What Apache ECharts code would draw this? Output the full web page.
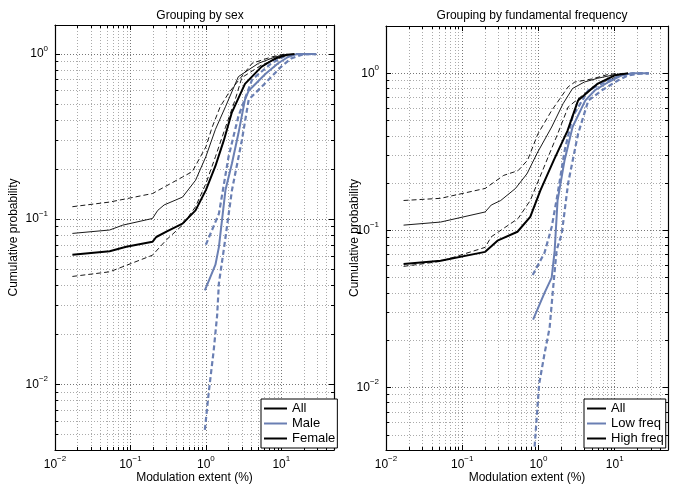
<!DOCTYPE html>
<html><head><meta charset="utf-8">
<script src="https://cdn.jsdelivr.net/npm/echarts@6/dist/echarts.min.js"></script>
<style>html,body{margin:0;padding:0;background:#fff}#c{width:680px;height:486px}</style>
</head><body><div id="c"></div><script>
// ---- tick labels / positions ----
const xMajor = [0.01, 0.1, 1, 10];
const yMajor = [0.01, 0.1, 1];
const titles = ['Grouping by sex', 'Grouping by fundamental frequency'];
const legendSex = ['All', 'Male', 'Female'];
const legendF0 = ['All', 'Low freq', 'High freq'];

// ---- left panel: grouping by sex  [x (%), cumulative probability] ----
const sexAll = [[0.017,0.061],[0.053,0.064],[0.088,0.068],[0.196,0.073],[0.22,0.078],[0.30,0.084],[0.49,0.094],[0.73,0.113],[1.0,0.15],[1.34,0.21],[1.73,0.30],[2.2,0.44],[3.3,0.66],[5.5,0.84],[8.3,0.94],[12,0.99],[15,1.0]];
const sexFemale = [[0.017,0.082],[0.053,0.086],[0.079,0.092],[0.196,0.101],[0.23,0.113],[0.28,0.122],[0.49,0.136],[0.73,0.172],[1.0,0.239],[1.34,0.35],[1.82,0.48],[2.7,0.73],[5.0,0.88],[8.3,0.96],[12,1.0]];
const sexFemaleHi = [[0.017,0.119],[0.053,0.127],[0.196,0.143],[0.49,0.18],[0.66,0.194],[1.0,0.274],[1.21,0.36],[1.55,0.48],[2.0,0.58],[4.1,0.88],[7.4,0.96],[11,1.0]];
const sexFemaleLo = [[0.017,0.045],[0.053,0.048],[0.196,0.0605],[0.30,0.075],[0.49,0.092],[0.73,0.119],[1.0,0.164],[1.34,0.239],[1.82,0.36],[2.45,0.53],[3.0,0.72],[5.5,0.86],[9.1,0.94],[15,1.0]];
const sexMale = [[0.97,0.037],[1.34,0.053],[1.49,0.068],[1.82,0.15],[2.22,0.218],[2.7,0.33],[3.3,0.53],[3.7,0.6],[6.2,0.76],[9.1,0.88],[12.3,0.96],[16,1.0],[29,1.0]];
const sexMaleHi = [[1.0,0.07],[1.49,0.108],[2.0,0.239],[2.7,0.42],[4.1,0.70],[7.4,0.88],[11,0.97],[16,1.0],[29,1.0]];
const sexMaleLo = [[0.97,0.0053],[1.1,0.0092],[1.27,0.016],[1.41,0.026],[1.49,0.041],[1.75,0.068],[2.22,0.15],[3.0,0.30],[3.7,0.53],[6.2,0.67],[10,0.84],[13.5,0.94],[20,1.0],[29,1.0]];

// ---- right panel: grouping by fundamental frequency ----
const f0All = [[0.017,0.061],[0.052,0.064],[0.20,0.073],[0.29,0.086],[0.53,0.098],[0.78,0.122],[1.06,0.18],[1.59,0.28],[2.4,0.43],[3.3,0.67],[6.0,0.86],[10,0.97],[15,1.0]];
const f0High = [[0.017,0.108],[0.052,0.113],[0.20,0.131],[0.24,0.145],[0.32,0.155],[0.50,0.185],[0.71,0.23],[0.96,0.31],[1.49,0.455],[2.1,0.64],[2.8,0.80],[4.0,0.88],[6.0,0.93],[10,0.98],[13,1.0]];
const f0HighHi = [[0.017,0.155],[0.052,0.16],[0.20,0.185],[0.35,0.224],[0.54,0.24],[0.72,0.28],[0.98,0.41],[1.49,0.58],[2.45,0.82],[3.0,0.88],[5.0,0.92],[8.0,0.98],[11,1.0]];
const f0HighLo = [[0.017,0.059],[0.052,0.0635],[0.20,0.078],[0.24,0.091],[0.54,0.119],[0.78,0.155],[1.17,0.25],[1.78,0.41],[2.45,0.61],[5.5,0.84],[10,0.94],[16,1.0]];
const f0Low = [[0.85,0.027],[1.2,0.040],[1.49,0.050],[1.63,0.074],[1.78,0.155],[2.2,0.28],[2.8,0.455],[4.1,0.67],[5.5,0.78],[8.3,0.88],[12.3,0.97],[17,1.0],[28,1.0]];
const f0LowHi = [[0.84,0.052],[1.2,0.072],[1.49,0.105],[1.78,0.17],[2.2,0.32],[2.8,0.53],[4.5,0.78],[8.3,0.90],[12,0.97],[17,1.0],[28,1.0]];
const f0LowLo = [[0.89,0.0042],[1.02,0.0105],[1.2,0.0164],[1.40,0.024],[1.55,0.042],[1.73,0.075],[2.02,0.095],[2.45,0.20],[3.3,0.41],[4.5,0.67],[6.8,0.78],[11,0.90],[15,0.97],[22,1.0],[28,1.0]];

// ---- build ----
const FONT = 'Liberation Sans, Arial, Helvetica, sans-serif';
const BLUE = '#6a7fb3';
function minorsOf(majors, lo, hi) {
  const out = [];
  majors.forEach(d0 => {
    const d = d0 / 10;
    for (let k = 2; k <= 9; k++) { const v = +(d * k).toPrecision(6); if (v > lo && v < hi) out.push(v); }
  });
  return out;
}
const xMin = 0.01, xMax = 50;
const yRanges = [[0.004, 1.5], [0.004, 2]];
const xMinor = minorsOf([0.1, 1, 10, 100], xMin, xMax);
function fmt(v) {
  const e = Math.round(Math.log10(v));
  return '{b|10}{s|' + (e < 0 ? '\u2212' + (-e) : e) + '}';
}
const rich = { b: { fontSize: 12, color: '#000', fontFamily: FONT }, s: { fontSize: 8, color: '#000', fontFamily: FONT, padding: [0, 0, 11, 0] } };
const dotMajor = { color: '#777', width: 1, type: [1, 2] };
const dotMinor = { color: '#aaa', width: 1, type: [1, 2] };

const xAxes = [], yAxes = [];
[0, 1].forEach(g => {
  const yMinor = minorsOf([0.01, 0.1, 1], yRanges[g][0], yRanges[g][1]);
  const bx = { type: 'log', logBase: 10, min: xMin, max: xMax, gridIndex: g };
  xAxes.push(Object.assign({}, bx, { position: 'bottom', name: 'Modulation extent (%)', nameLocation: 'middle', nameGap: 22,
    nameMoveOverlap: false,
    nameTextStyle: { fontSize: 12, color: '#000', fontFamily: FONT, verticalAlign: 'top' },
    axisLine: { show: true, lineStyle: { color: '#000', width: 1.2 } },
    axisTick: { show: true, inside: true, length: 5, customValues: xMajor, lineStyle: { color: '#000' } },
    axisLabel: { customValues: xMajor, formatter: fmt, rich: rich, margin: 5 },
    splitLine: { show: true, lineStyle: dotMajor } }));
  xAxes.push(Object.assign({}, bx, { position: 'bottom', axisLine: { show: false },
    axisTick: { show: true, inside: true, length: 3, customValues: xMinor, lineStyle: { color: '#000' } },
    axisLabel: { show: false }, splitLine: { show: true, lineStyle: dotMinor } }));
  xAxes.push(Object.assign({}, bx, { position: 'top', axisLine: { show: true, lineStyle: { color: '#000', width: 1.2 } },
    axisTick: { show: true, inside: true, length: 5, customValues: xMajor, lineStyle: { color: '#000' } },
    axisLabel: { show: false }, splitLine: { show: false } }));
  xAxes.push(Object.assign({}, bx, { position: 'top', axisLine: { show: false },
    axisTick: { show: true, inside: true, length: 3, customValues: xMinor, lineStyle: { color: '#000' } },
    axisLabel: { show: false }, splitLine: { show: false } }));

  const by = { type: 'log', logBase: 10, min: yRanges[g][0], max: yRanges[g][1], gridIndex: g };
  yAxes.push(Object.assign({}, by, { position: 'left', name: 'Cumulative probability', nameLocation: 'middle', nameGap: g === 0 ? 35 : 25,
    nameMoveOverlap: false,
    nameTextStyle: { fontSize: 12, color: '#000', fontFamily: FONT },
    axisLine: { show: true, lineStyle: { color: '#000', width: 1.2 } },
    axisTick: { show: true, inside: true, length: 5, customValues: yMajor, lineStyle: { color: '#000' } },
    axisLabel: { customValues: yMajor, formatter: fmt, rich: rich, margin: 7 },
    splitLine: { show: true, lineStyle: dotMajor } }));
  yAxes.push(Object.assign({}, by, { position: 'left', axisLine: { show: false },
    axisTick: { show: true, inside: true, length: 3, customValues: yMinor, lineStyle: { color: '#000' } },
    axisLabel: { show: false }, splitLine: { show: true, lineStyle: dotMinor } }));
  yAxes.push(Object.assign({}, by, { position: 'right', axisLine: { show: true, lineStyle: { color: '#000', width: 1.2 } },
    axisTick: { show: true, inside: true, length: 5, customValues: yMajor, lineStyle: { color: '#000' } },
    axisLabel: { show: false }, splitLine: { show: false } }));
  yAxes.push(Object.assign({}, by, { position: 'right', axisLine: { show: false },
    axisTick: { show: true, inside: true, length: 3, customValues: yMinor, lineStyle: { color: '#000' } },
    axisLabel: { show: false }, splitLine: { show: false } }));
});

function line(name, data, g, color, width, dashed, z) {
  return { type: 'line', name: name, data: data, xAxisIndex: g * 4, yAxisIndex: g * 4,
    symbol: 'none', showSymbol: false, animation: false, z: z || 2,
    lineStyle: { color: color, width: width, type: dashed ? [5, 3] : 'solid' },
    itemStyle: { color: color } };
}
const series = [
  line('Female CI', sexFemaleHi, 0, '#000', 0.9, true),
  line('Female CI', sexFemaleLo, 0, '#000', 0.9, true),
  line('Male CI', sexMaleHi, 0, BLUE, 2.2, true),
  line('Male CI', sexMaleLo, 0, BLUE, 2.2, true),
  line(legendSex[2], sexFemale, 0, '#000', 0.9, false, 3),
  line(legendSex[1], sexMale, 0, BLUE, 2, false, 3),
  line(legendSex[0], sexAll, 0, '#000', 2, false, 4),
  line('High CI', f0HighHi, 1, '#000', 0.9, true),
  line('High CI', f0HighLo, 1, '#000', 0.9, true),
  line('Low CI', f0LowHi, 1, BLUE, 2.2, true),
  line('Low CI', f0LowLo, 1, BLUE, 2.2, true),
  line(legendF0[2], f0High, 1, '#000', 0.9, false, 3),
  line(legendF0[1], f0Low, 1, BLUE, 2, false, 3),
  line(legendF0[0], f0All, 1, '#000', 2, false, 4)
];
function legend(data, left, iw) {
  return { data: data, left: left, top: 399, orient: 'vertical', itemWidth: iw, itemHeight: 12, itemGap: 2,
    backgroundColor: '#fff', borderColor: '#000', borderWidth: 1, borderRadius: 0, padding: [3, 2, 3, 2],
    itemStyle: { opacity: 0 },
    selectedMode: false, textStyle: { fontSize: 13, color: '#000', fontFamily: FONT } };
}
const chart = echarts.init(document.getElementById('c'), null, { renderer: 'canvas' });
chart.setOption({
  backgroundColor: '#fff',
  animation: false,
  title: [
    { text: titles[0], left: 195, top: 5, textAlign: 'center', textStyle: { fontSize: 12, fontWeight: 'normal', color: '#000', fontFamily: FONT } },
    { text: titles[1], left: 527, top: 5, textAlign: 'center', textStyle: { fontSize: 12, fontWeight: 'normal', color: '#000', fontFamily: FONT } }
  ],
  grid: [
    { left: 55, right: 346, top: 25, bottom: 36, outerBoundsMode: 'none', containLabel: false },
    { left: 386, right: 12, top: 26, bottom: 36, outerBoundsMode: 'none', containLabel: false }
  ],
  legend: [legend(legendSex, 261, 23), legend(legendF0, 584, 19)],
  xAxis: xAxes, yAxis: yAxes, series: series
});
</script></body></html>
